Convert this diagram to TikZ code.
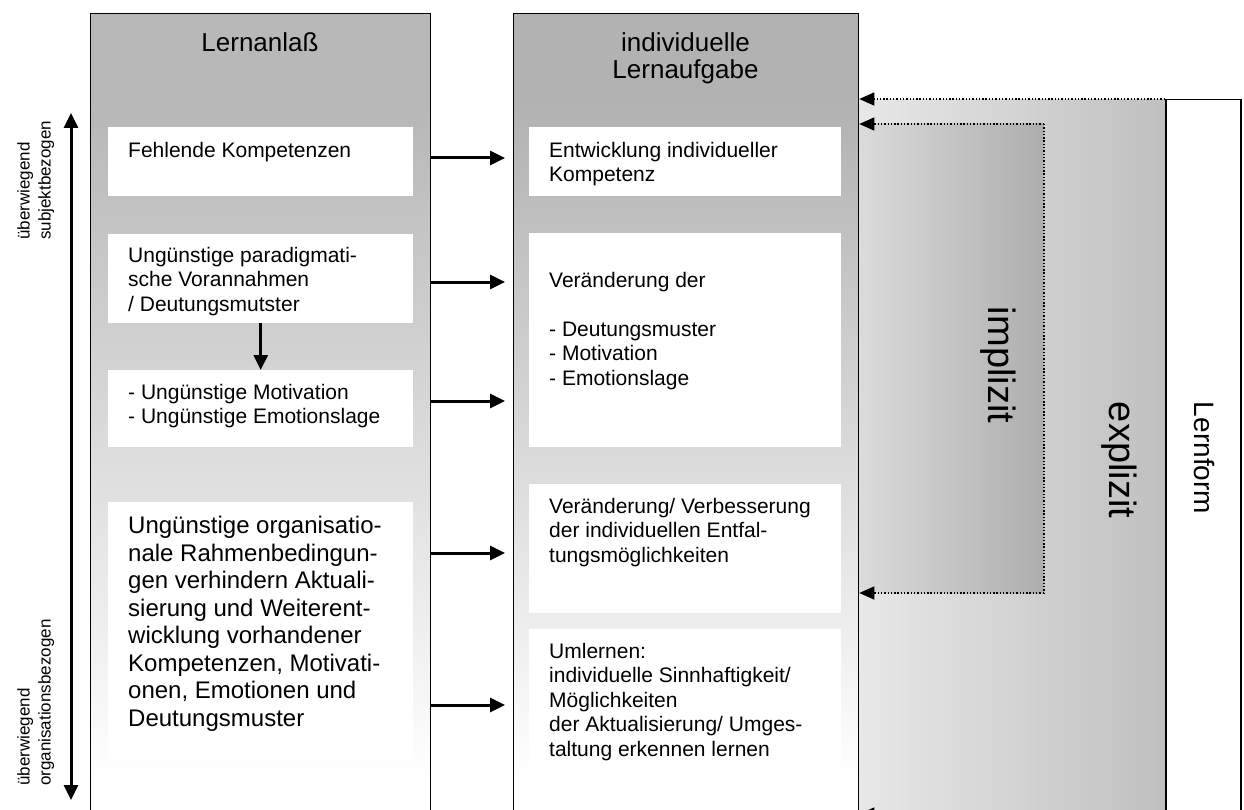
\documentclass[tikz,border=0pt]{standalone}
\usepackage{fontspec}
\setmainfont{Liberation Sans}
\usetikzlibrary{arrows.meta,calc}
\definecolor{grayL}{gray}{0.72}
\definecolor{grayM}{gray}{0.70}
\definecolor{exL}{gray}{0.91}
\definecolor{exR}{gray}{0.75}
\definecolor{imL}{gray}{0.86}
\definecolor{imR}{gray}{0.68}
\begin{document}
\begin{tikzpicture}[x=1pt,y=-1pt,
  wbox/.style={fill=white, draw=none, inner sep=0pt, anchor=north west},
  colframe/.style={draw=black, line width=1.3pt, fill=none, inner sep=0pt, anchor=north west},
  txt/.style={inner sep=0pt, anchor=north west, align=left, font=\fontsize{21}{24.5}\selectfont},
  bigtxt/.style={inner sep=0pt, anchor=north west, align=left, font=\fontsize{24}{27.5}\selectfont},
  hdr/.style={inner sep=0pt, anchor=north, align=center, font=\fontsize{26}{27}\selectfont},
  side/.style={inner sep=0pt, anchor=north west, align=left, rotate=90, font=\fontsize{17}{21}\selectfont},
  vlabel/.style={rotate=-90, inner sep=0pt},
  arr/.style={line width=3pt, -{Triangle[length=15pt,width=14pt]}},
  dblarr/.style={line width=3pt, {Triangle[length=15pt,width=14pt]}-{Triangle[length=15pt,width=14pt]}},
  dotline/.style={line width=1.6pt, dash pattern=on 1.4pt off 1.9pt},
  dotarr/.style={dotline, -{Triangle[length=15pt,width=13pt]}},
]
\useasboundingbox (0,0) rectangle (1244,810);
\begin{scope}
\clip (0,0) rectangle (1244,810);
% ---- column backgrounds
\fill[grayL] (90,13) rectangle (430,110);
\shade[top color=grayL, bottom color=white] (90,110) rectangle (430,780);
\fill[grayM] (513,13) rectangle (858,110);
\shade[top color=grayM, bottom color=white] (513,110) rectangle (858,780);
% ---- right regions
\shade[left color=exL, right color=exR] (858,100) rectangle (1165,830);
\shade[left color=imL, right color=imR] (858,124) rectangle (1044,593);
% ---- column frames
\node[colframe, minimum width=340pt, minimum height=817pt] (colL) at (90,13) {};
\node[colframe, minimum width=345pt, minimum height=817pt] (colM) at (513,13) {};
\node[draw=black, line width=1.5pt, fill=white, inner sep=0pt, anchor=north west,
      minimum width=75pt, minimum height=731pt] (LF) at (1165,99) {};
% ---- headers
\node[hdr] (hL) at (260,32) {Lernanla\ss};
\node[hdr] (hM) at (685.5,32) {individuelle\\Lernaufgabe};
% ---- left boxes
\node[wbox, minimum width=305pt, minimum height=69pt] (L1) at (108,127) {};
\node[wbox, minimum width=305pt, minimum height=89pt] (L2) at (108,234) {};
\node[wbox, minimum width=305pt, minimum height=77pt] (L3) at (108,370) {};
\node[wbox, minimum width=305pt, minimum height=258pt] (L4) at (108,502) {};
\node[txt] (tL1) at (128,142) {Fehlende Kompetenzen};
\node[txt] (tL2) at (128,247) {Ungünstige paradigmati-\\sche Vorannahmen\\/ Deutungsmutster};
\node[txt] (tL3) at (128,384) {- Ungünstige Motivation\\- Ungünstige Emotionslage};
\node[bigtxt] (tL4) at (128,516) {Ungünstige organisatio-\\nale Rahmenbedingun-\\gen verhindern Aktuali-\\sierung und Weiterent-\\wicklung vorhandener\\Kompetenzen, Motivati-\\onen, Emotionen und\\Deutungsmuster};
% ---- middle boxes
\node[wbox, minimum width=312pt, minimum height=69pt] (M1) at (529,127) {};
\node[wbox, minimum width=312pt, minimum height=214pt] (M2) at (529,233) {};
\node[wbox, minimum width=312pt, minimum height=129pt] (M3) at (529,484) {};
\node[wbox, minimum width=312pt, minimum height=158pt] (M4) at (529,629) {};
\node[txt] (tM1) at (549,142) {Entwicklung individueller\\Kompetenz};
\node[txt] (tM2) at (549,272) {Veränderung der\\[24.5pt]- Deutungsmuster\\- Motivation\\- Emotionslage};
\node[txt] (tM3) at (549,498) {Veränderung/ Verbesserung\\der individuellen Entfal-\\tungsmöglichkeiten};
\node[txt] (tM4) at (549,643) {Umlernen:\\individuelle Sinnhaftigkeit/\\Möglichkeiten\\der Aktualisierung/ Umges-\\taltung erkennen lernen};
% ---- horizontal arrows
\coordinate (a1) at (430,158);
\coordinate (a2) at (430,282);
\coordinate (a3) at (430,401);
\coordinate (a4) at (430,553);
\coordinate (a5) at (430,705);
\foreach \a in {a1,a2,a3,a4,a5}
  \draw[arr] (\a) -- ([xshift=-8pt]\a -| colM.west);
% ---- vertical arrow in left column
\draw[arr] (L2.south) -- (L3.north);
% ---- side double arrow and labels
\coordinate (dTop) at (71,113);
\coordinate (dBot) at (71,800);
\draw[dblarr] (dTop) -- (dBot);
\node[side] (sTop) at (17,240) {überwiegend\\subjektbezogen};
\node[side] (sBot) at (17,786) {überwiegend\\organisationsbezogen};
% ---- dotted arrows on the right
\draw[dotarr] (LF.north west) -- (LF.north west -| colM.east);
\coordinate (imTR) at (1044,124);
\coordinate (imBR) at (1044,593);
\draw[dotarr] (imTR) -- (imTR -| colM.east);
\draw[dotline] (imTR) -- (imBR);
\draw[dotarr] (imBR) -- (imBR -| colM.east);
\coordinate (exBot) at (1165,814);
\draw[dotarr] (exBot) -- (exBot -| colM.east);
% ---- rotated labels on the right
\node[vlabel, font=\fontsize{38}{40}\selectfont] (tIm) at (998,365) {implizit};
\node[vlabel, font=\fontsize{38}{40}\selectfont] (tEx) at (1119,460) {explizit};
\node[vlabel, font=\fontsize{28}{30}\selectfont] (tLF) at (1204,458) {Lernform};
\end{scope}
\end{tikzpicture}
\end{document}
